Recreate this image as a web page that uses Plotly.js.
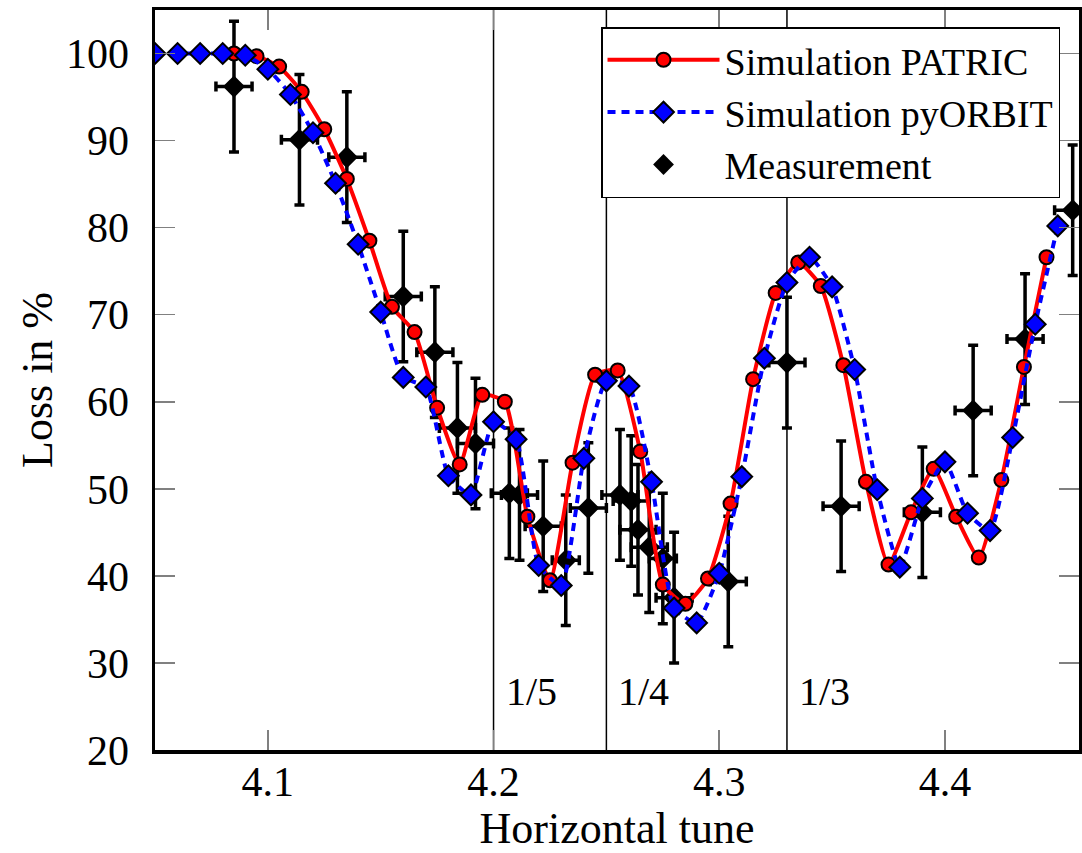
<!DOCTYPE html>
<html>
<head>
<meta charset="utf-8">
<script src="https://cdn.plot.ly/plotly-3.0.1.min.js"></script>
<style>
  html, body { margin: 0; padding: 0; background: #fff; }
  #chart { width: 1082px; height: 853px; }
</style>
</head>
<body>
<div id="chart"></div>
<script>
// ---- data ----
var patricTune = [4.085, 4.095, 4.105, 4.115, 4.125, 4.135, 4.145, 4.155, 4.165, 4.175,
                  4.185, 4.195, 4.205, 4.215, 4.225, 4.235, 4.245, 4.255, 4.265, 4.275,
                  4.285, 4.295, 4.305, 4.315, 4.325, 4.335, 4.345, 4.355, 4.365, 4.375,
                  4.385, 4.395, 4.405, 4.415, 4.425, 4.435, 4.445];
var patricLoss = [100.0, 99.7, 98.5, 95.6, 91.3, 85.6, 78.5, 70.9, 68.0, 59.3,
                  52.8, 60.8, 60.0, 46.8, 39.5, 53.0, 63.1, 63.6, 54.3, 39.0,
                  36.8, 39.7, 48.3, 62.6, 72.5, 76.0, 73.3, 64.2, 50.8, 41.3,
                  47.3, 52.3, 46.8, 42.1, 51.0, 64.0, 76.6];

var pyorbitTune = [4.05, 4.06, 4.07, 4.08, 4.09, 4.10, 4.11, 4.12, 4.13, 4.14,
                   4.15, 4.16, 4.17, 4.18, 4.19, 4.20, 4.21, 4.22, 4.23, 4.24,
                   4.25, 4.26, 4.27, 4.28, 4.29, 4.30, 4.31, 4.32, 4.33, 4.34,
                   4.35, 4.36, 4.37, 4.38, 4.39, 4.40, 4.41, 4.42, 4.43, 4.44, 4.45];
var pyorbitLoss = [100.0, 100.0, 100.0, 100.0, 99.8, 98.2, 95.3, 90.9, 85.1, 78.1,
                   70.3, 62.8, 61.7, 51.5, 49.3, 57.7, 55.7, 41.2, 38.9, 53.5,
                   62.4, 61.8, 50.8, 36.3, 34.6, 40.3, 51.4, 65.0, 73.7, 76.6,
                   73.2, 63.7, 49.9, 41.0, 48.9, 53.1, 47.2, 45.2, 55.9, 68.9, 80.2];

var measTune = [4.085, 4.114, 4.135, 4.160, 4.174, 4.184, 4.192, 4.207, 4.2115, 4.222,
                4.232, 4.242, 4.256, 4.261, 4.264, 4.269, 4.275, 4.280, 4.304, 4.330,
                4.354, 4.390, 4.4125, 4.4355, 4.4566];
var measLoss = [96.2, 90.1, 88.1, 72.1, 65.7, 57.0, 55.2, 49.5, 49.3, 45.7,
                41.8, 47.8, 49.3, 48.6, 45.3, 43.3, 42.0, 37.5, 39.35, 64.5,
                48.0, 47.3, 59.0, 67.2, 82.0];
var measErrLoss = [7.5, 7.5, 7.5, 7.5, 7.5, 7.5, 7.5, 7.5, 7.5, 7.5,
                   7.5, 7.5, 7.5, 7.5, 7.5, 7.5, 7.5, 7.5, 7.5, 7.5,
                   7.5, 7.5, 7.5, 7.5, 7.5];
var measErrTune = [0.008, 0.008, 0.008, 0.008, 0.008, 0.008, 0.008, 0.008, 0.008, 0.008,
                   0.006, 0.008, 0.008, 0.008, 0.008, 0.008, 0.006, 0.008, 0.008, 0.008,
                   0.008, 0.008, 0.008, 0.008, 0.008];

var resonanceTunes = [4.2, 4.25, 4.33];
var resonanceLabels = ['1/5', '1/4', '1/3'];

var xTicks = [4.1, 4.2, 4.3, 4.4];
var xTickText = ['4.1', '4.2', '4.3', '4.4'];
var yTicks = [20, 30, 40, 50, 60, 70, 80, 90, 100];

// ---- traces ----
var FONT = '"Liberation Serif", "Times New Roman", Times, serif';

var measurement = {
  x: measTune, y: measLoss, name: 'Measurement', type: 'scatter', mode: 'markers',
  legendrank: 3,
  marker: { symbol: 'diamond', size: 17, color: 'black' },
  error_y: { type: 'data', array: measErrLoss, visible: true, color: 'black', thickness: 3.5, width: 5 },
  error_x: { type: 'data', array: measErrTune, visible: true, color: 'black', thickness: 3.5, width: 5 }
};
var patric = {
  x: patricTune, y: patricLoss, name: 'Simulation PATRIC', type: 'scatter', mode: 'lines+markers',
  legendrank: 1,
  line: { color: '#ff0000', width: 4, shape: 'spline', smoothing: 0.5 },
  marker: { symbol: 'circle', size: 14, color: '#ff0000', line: { color: 'black', width: 2 } }
};
var pyorbit = {
  x: pyorbitTune, y: pyorbitLoss, name: 'Simulation pyORBIT', type: 'scatter', mode: 'lines+markers',
  legendrank: 2,
  line: { color: '#0000ff', width: 4, dash: '8px,6px', shape: 'spline', smoothing: 0.5 },
  marker: { symbol: 'diamond', size: 16, color: '#0000ff', line: { color: 'black', width: 2 } }
};

var shapes = resonanceTunes.map(function (t) {
  return { type: 'line', xref: 'x', yref: 'paper', x0: t, x1: t, y0: 0, y1: 1,
           line: { color: 'black', width: 1.5 }, layer: 'below' };
});
var annotations = resonanceTunes.map(function (t, i) {
  return { x: t, y: 26.7, xref: 'x', yref: 'y', text: resonanceLabels[i], showarrow: false,
           xanchor: 'left', yanchor: 'middle', xshift: 10,
           font: { family: FONT, size: 40, color: 'black' } };
});

var layout = {
  width: 1082, height: 853,
  margin: { l: 155, r: 3, t: 10, b: 103 },
  paper_bgcolor: 'white', plot_bgcolor: 'white',
  font: { family: FONT, size: 40, color: 'black' },
  showlegend: true,
  legend: {
    x: 0.4827, y: 0.977, xanchor: 'left', yanchor: 'top',
    bgcolor: 'white', bordercolor: 'black', borderwidth: 1.5,
    font: { family: FONT, size: 38, color: 'black' },
    itemwidth: 112, tracegroupgap: 0
  },
  xaxis: {
    range: [4.05, 4.4594], tickvals: xTicks, ticktext: xTickText,
    ticks: 'inside', ticklen: 20, tickwidth: 1.5, tickcolor: '#808080',
    showline: true, linewidth: 3.5, linecolor: 'black', mirror: 'ticks',
    showgrid: false, zeroline: false,
    tickfont: { family: FONT, size: 42, color: 'black' },
    ticklabelstandoff: -8,
    title: { text: 'Horizontal tune', font: { family: FONT, size: 44, color: 'black' }, standoff: 6 }
  },
  yaxis: {
    range: [20, 105], tickvals: yTicks,
    ticks: 'inside', ticklen: 20, tickwidth: 1.5, tickcolor: '#808080',
    showline: true, linewidth: 3.5, linecolor: 'black', mirror: 'ticks',
    showgrid: false, zeroline: false,
    tickfont: { family: FONT, size: 42, color: 'black' },
    ticklabelstandoff: 14,
    title: { text: 'Loss in %', font: { family: FONT, size: 44, color: 'black' }, standoff: 0 }
  },
  shapes: shapes,
  annotations: annotations
};

Plotly.newPlot('chart', [measurement, patric, pyorbit], layout, { displayModeBar: false, staticPlot: true });
</script>
</body>
</html>
